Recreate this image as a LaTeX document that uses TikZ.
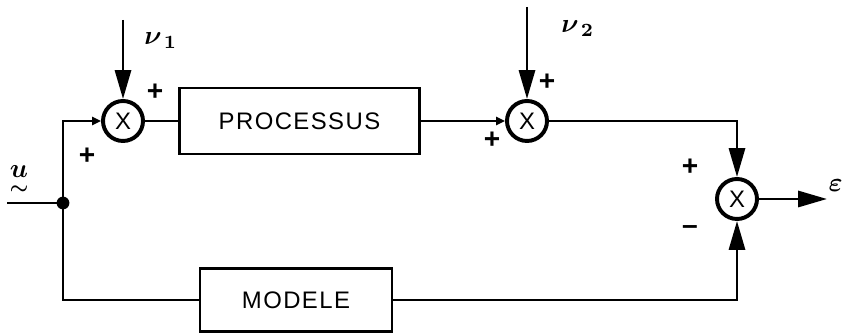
\documentclass[tikz,border=0pt]{standalone}
\usepackage{amsmath}
\usepackage{graphicx}
\usepackage{fontspec}
\newfontfamily\lettering[LetterSpace=6]{Liberation Sans}
\usetikzlibrary{arrows.meta}

\newcommand{\sigtext}[1]{\scalebox{1.9}{\boldmath$#1$}}

\tikzset{
  wire/.style={line width=2pt},
  mixer/.style={draw, circle, line width=2.8pt, minimum size=1cm, inner sep=0pt,
    font=\lettering\fontsize{17}{20}\selectfont},
  block/.style={draw, line width=2pt, inner sep=0pt,
    font=\lettering\fontsize{17}{20}\selectfont},
  sign/.style={font=\lettering\bfseries\fontsize{20}{22}\selectfont, inner sep=0pt},
  signal/.style={inner sep=0pt},
  bigtip/.style={-{Triangle[length=0.72cm,width=0.4cm]}},
  smalltip/.style={-{Triangle[length=0.22cm,width=0.2cm]}},
}

\begin{document}
\begin{tikzpicture}[x=0.025cm, y=0.025cm]
  \useasboundingbox (0,0) rectangle (843,333);
  % summing points
  \node[mixer] (s1) at (123,212) {X};
  \node[mixer] (s2) at (527,212) {X};
  \node[mixer] (s3) at (737,134) {X};
  % blocks
  \node[block, minimum width=6cm, minimum height=1.65cm] (proc) at (299.5,212) {PROCESSUS};
  \node[block, minimum width=4.8cm, minimum height=1.575cm] (mod) at (296,33) {MODELE};
  % free ends
  \coordinate (in) at (7,130);
  \coordinate (j) at (63,130);
  \coordinate (n1) at (123,313);
  \coordinate (n2) at (527,326);
  \coordinate (out) at (827,134);
  % wires
  \draw[wire] (in) -- (j);
  \draw[wire, smalltip] (j) |- (s1);
  \draw[wire] (s1) -- (proc);
  \draw[wire, smalltip] (proc) -- (s2);
  \draw[wire, bigtip] (s2) -| (s3);
  \draw[wire] (j) |- (mod);
  \draw[wire, bigtip] (mod) -| (s3);
  \draw[wire, bigtip] (s3) -- (out);
  \draw[wire, bigtip] (n1) -- (s1);
  \draw[wire, bigtip] (n2) -- (s2);
  \fill (j) circle (0.16cm);
  % signals
  \node[signal] (u) at (19,152) {\sigtext{\underset{\sim}{u}}};
  \node[signal, anchor=base west] (v1) at (144,288) {\sigtext{\nu_{\,1}}};
  \node[signal, anchor=base west] (v2) at (561,300) {\sigtext{\nu_{\,2}}};
  \node[signal, anchor=base east] (eps) at (843,141) {\sigtext{\varepsilon}};
  % signs
  \node[sign] (p1) at (155,241) {+};
  \node[sign] (p2) at (87,177) {+};
  \node[sign] (p3) at (547,251) {+};
  \node[sign] (p4) at (492,193) {+};
  \node[sign] (p5) at (690,166) {+};
  \node[sign] (m5) at (690,103) {\textendash};
\end{tikzpicture}
\end{document}
